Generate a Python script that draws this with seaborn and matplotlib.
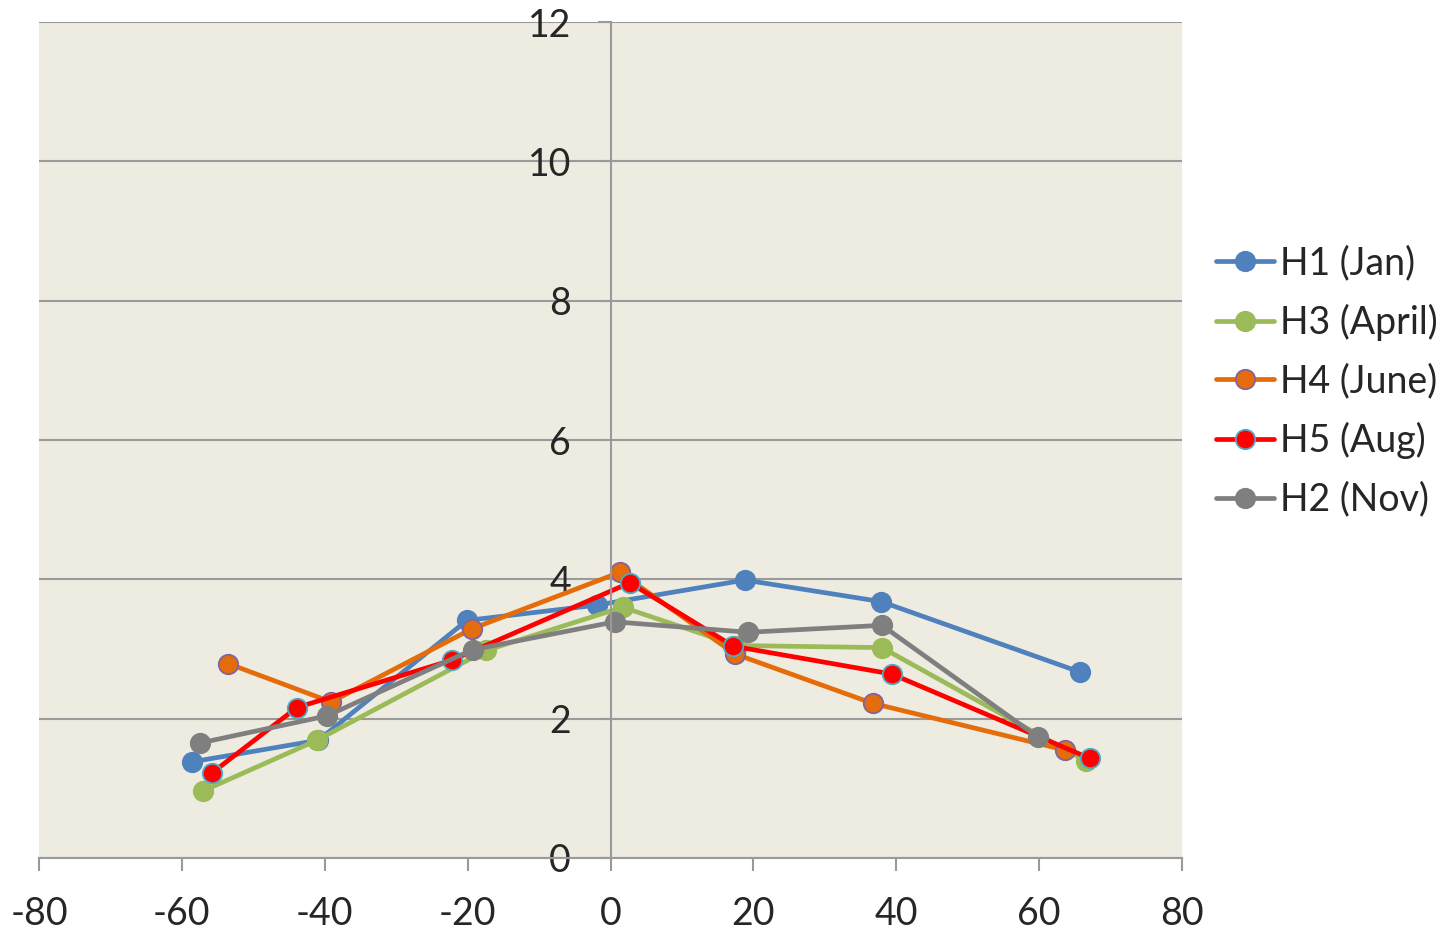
import pandas as pd
import matplotlib.pyplot as plt
import seaborn as sns

# series values (x = latitude-like, y = value)
h1_x = [-58.6, -40.9, -20.1, -1.9, 18.8, 37.9, 65.7]
h1_y = [1.38, 1.69, 3.41, 3.63, 3.99, 3.68, 2.67]

h3_x = [-57.1, -41.1, -17.4, 1.7, 17.7, 38.0, 66.6]
h3_y = [0.96, 1.69, 2.98, 3.60, 3.05, 3.02, 1.39]

h4_x = [-53.5, -39.1, -19.4, 1.3, 17.4, 36.7, 63.6]
h4_y = [2.79, 2.24, 3.29, 4.10, 2.93, 2.22, 1.55]

h5_x = [-55.8, -43.9, -22.2, 2.7, 17.2, 39.4, 67.1]
h5_y = [1.22, 2.16, 2.84, 3.95, 3.04, 2.64, 1.43]

h2_x = [-57.5, -39.7, -19.3, 0.6, 19.3, 38.0, 59.9]
h2_y = [1.65, 2.04, 2.99, 3.39, 3.24, 3.34, 1.73]

series = [
    ("H1 (Jan)", h1_x, h1_y, "#4F81BD", "#4F81BD"),
    ("H3 (April)", h3_x, h3_y, "#9BBB59", "#9BBB59"),
    ("H4 (June)", h4_x, h4_y, "#E46C0A", "#8064A2"),
    ("H5 (Aug)", h5_x, h5_y, "#FF0000", "#4BACC6"),
    ("H2 (Nov)", h2_x, h2_y, "#7F7F7F", "#7F7F7F"),
]

x_ticks = list(range(-80, 81, 20))
y_ticks = list(range(0, 13, 2))

sns.set_style("white")
plt.rcParams['font.family'] = ['Lato', 'DejaVu Sans']
plt.rcParams['axes.unicode_minus'] = False
grid_color = "#9A9A9A"

fig = plt.figure(figsize=(14.45, 9.31), dpi=100)
ax = fig.add_axes([39 / 1445, 1 - 858 / 931, (1182 - 39) / 1445, (858 - 22) / 931])
ax.set_facecolor("#EEEBE0")

for name, xs, ys, color, edge in series:
    df = pd.DataFrame({"x": xs, "y": ys})
    sns.lineplot(data=df, x="x", y="y", ax=ax, sort=False, estimator=None,
                 color=color, linewidth=3.4, marker="o", markersize=14,
                 markerfacecolor=color, markeredgecolor=edge,
                 markeredgewidth=1.3, label=name)

ax.set_xlim(-80, 80)
ax.set_ylim(0, 12)
ax.set_xticks(x_ticks)
ax.set_yticks(y_ticks)
ax.set_xlabel("")
ax.set_ylabel("")

ax.yaxis.grid(True, color=grid_color, linewidth=1.5)
ax.xaxis.grid(False)
ax.set_axisbelow(True)

for side in ["top", "right"]:
    ax.spines[side].set_visible(False)
ax.spines["left"].set_position(("data", 0))
ax.spines["left"].set_color(grid_color)
ax.spines["left"].set_linewidth(1.5)
ax.spines["bottom"].set_color(grid_color)
ax.spines["bottom"].set_linewidth(1.5)

ax.tick_params(axis="x", direction="out", length=9.5, width=1.5, color=grid_color,
               pad=18, labelsize=27, bottom=True)
ax.tick_params(axis="y", direction="out", length=9.5, width=1.5, color=grid_color,
               pad=19, labelsize=27, left=True)

leg = ax.legend(loc="center left", bbox_to_anchor=(1.0, 0.57), frameon=False,
                fontsize=27, handlelength=1.55, handletextpad=0.15,
                labelspacing=0.6, borderaxespad=0.5)

fig.savefig("out.png", dpi=100, facecolor="white")
